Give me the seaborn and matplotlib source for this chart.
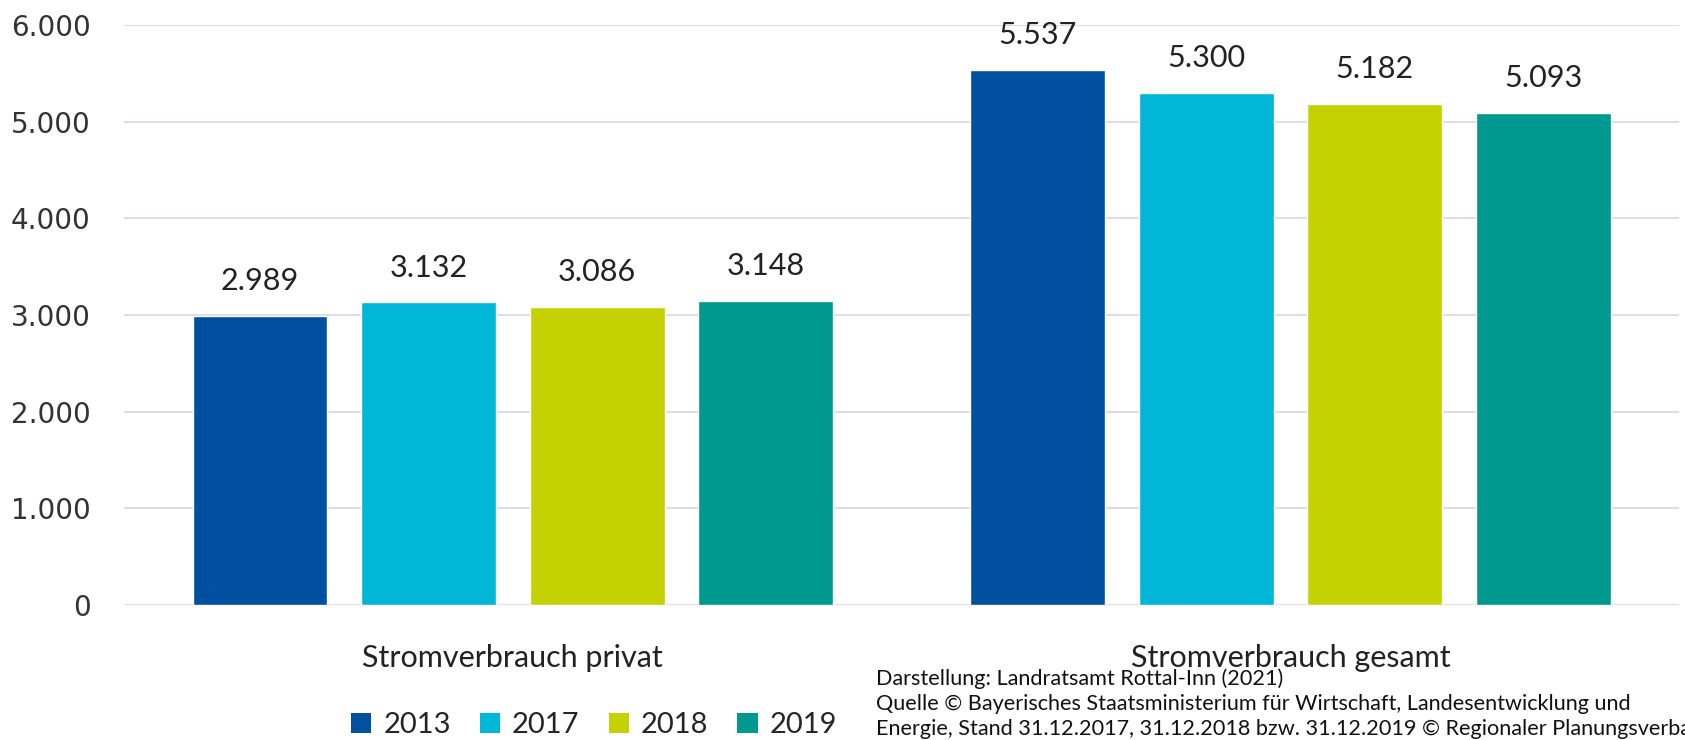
import pandas as pd
import numpy as np
import matplotlib.pyplot as plt
import seaborn as sns
from matplotlib.patches import Patch
from matplotlib.ticker import FuncFormatter

# Stromverbrauch
categories = ['Stromverbrauch privat', 'Stromverbrauch gesamt']
years = ['2013', '2017', '2018', '2019']
privat = [2989, 3132, 3086, 3148]
gesamt = [5537, 5300, 5182, 5093]
colors = ['#0050a0', '#00b7d8', '#c3d200', '#00998f']

df = pd.DataFrame({
    'Kategorie': [categories[0]] * 4 + [categories[1]] * 4,
    'Jahr': years + years,
    'Wert': privat + gesamt,
})

sns.set_style('white')
plt.rcParams['font.family'] = ['Lato', 'DejaVu Sans']


def de_fmt(v, pos=None):
    return f"{int(round(v)):,}".replace(',', '.')


fig = plt.figure(figsize=(16.85, 7.4), dpi=100)
ax = fig.add_axes([0.0736, 0.1824, 0.923, 0.7836])

sns.barplot(data=df, x='Kategorie', y='Wert', hue='Jahr', hue_order=years,
            palette=colors, width=0.867, gap=0.2, ax=ax, legend=False,
            saturation=1)

for cont in ax.containers:
    ax.bar_label(cont, labels=[de_fmt(b.get_height()) for b in cont],
                 padding=15, fontsize=22, color='#222222')

ax.set_xlim(-0.5, 1.5)
ax.set_ylim(0, 6000)
ax.set_yticks(range(0, 6001, 1000))
ax.yaxis.set_major_formatter(FuncFormatter(de_fmt))
ax.yaxis.grid(True, color='#d9dee8', linewidth=1.5)
ax.set_axisbelow(True)
for s in ax.spines.values():
    s.set_visible(False)
ax.tick_params(axis='y', length=0, pad=24, labelsize=20, labelcolor='#333333',
               labelfontfamily='DejaVu Sans')
ax.tick_params(axis='x', length=0, pad=28, labelsize=22, labelcolor='#222222')
ax.set_xlabel('')
ax.set_ylabel('')

handles = [Patch(facecolor=c, edgecolor='none') for c in colors]
fig.legend(handles, years, loc='center', bbox_to_anchor=(0.3525, 0.02),
           ncol=4, frameon=False, fontsize=21, handlelength=0.7,
           handleheight=0.7, handletextpad=0.4, columnspacing=1.0)

src = ['Darstellung: Landratsamt Rottal-Inn (2021)',
       'Quelle © Bayerisches Staatsministerium für Wirtschaft, Landesentwicklung und',
       'Energie, Stand 31.12.2017, 31.12.2018 bzw. 31.12.2019 © Regionaler Planungsverband']
for txt, yy in zip(src, [0.0824, 0.0486, 0.0149]):
    fig.text(0.52, yy, txt, fontsize=15.6, va='center', ha='left', color='#111111')

plt.savefig('out.png', dpi=100)
